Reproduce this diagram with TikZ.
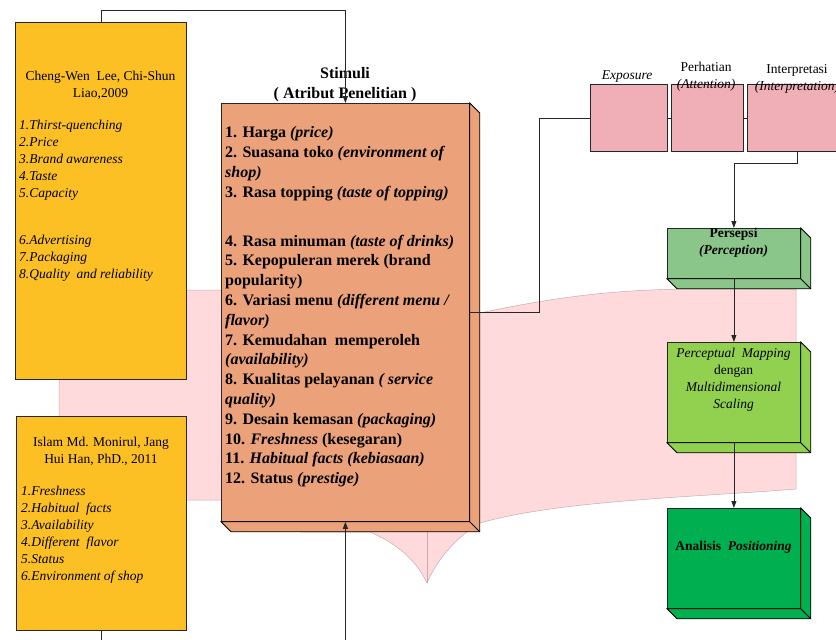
\documentclass[tikz,border=0pt]{standalone}
\usepackage{fontspec}
\setmainfont{Liberation Serif}
\usetikzlibrary{arrows.meta}

\definecolor{litcol}{RGB}{252,192,37}
\definecolor{stimcol}{RGB}{235,161,121}
\definecolor{stagecol}{RGB}{240,175,182}
\definecolor{percol}{RGB}{138,198,137}
\definecolor{mapcol}{RGB}{146,208,80}
\definecolor{anacol}{RGB}{0,176,80}
\definecolor{bgpink}{RGB}{255,218,220}
\definecolor{bgedge}{RGB}{200,172,174}

% side and bottom faces of a raised box
\newcommand{\depthbox}[2]{%
  \draw[line width=0.8pt,fill=#2] (#1.north east) -- ([shift={(10,10)}]#1.north east)
    -- ([shift={(10,10)}]#1.south east) -- ([shift={(10,10)}]#1.south west)
    -- (#1.south west) -- (#1.south east) -- cycle;
  \draw[line width=0.8pt] (#1.south east) -- ([shift={(10,10)}]#1.south east);}

\begin{document}
\begin{tikzpicture}[x=1pt,y=-1pt,
    box/.style={draw=black!85,line width=0.8pt,inner sep=0pt,anchor=north west},
    txt/.style={inner sep=0pt,font=\fontsize{13.5}{17}\selectfont},
    link/.style={draw=black!85,line width=0.8pt},
    arrow/.style={link,-{Triangle[length=7pt,width=5pt]}}]
  \useasboundingbox (0,0) rectangle (836,640);

  % pink background shape
  \draw[bgedge,fill=bgpink,line width=0.5pt] (59,290) -- (300,290) -- (300,313) -- (480,313)
    .. controls (560,296) and (620,289) .. (700,289) -- (796,289) -- (796,489)
    .. controls (700,497) and (560,500) .. (480,523)
    .. controls (455,538) and (437,560) .. (427,583)
    .. controls (417,562) and (400,545) .. (370,532)
    -- (300,532) -- (300,500) -- (59,500) -- cycle;
  \draw[bgedge,line width=0.5pt] (427,532) -- (427,583);

  % literature boxes
  \node[box,fill=litcol,minimum width=171,minimum height=357] (lit1) at (15,22) {};
  \node[txt,anchor=north,align=center] at (100.5,71) {Cheng-Wen\ \ Lee, Chi-Shun\\Liao,2009};
  \node[txt,anchor=north west,align=left,font=\fontsize{13.5}{17}\selectfont\itshape] at (19,120)
    {1.Thirst-quenching\\2.Price\\3.Brand awareness\\4.Taste\\5.Capacity\\[30pt]
     6.Advertising\\7.Packaging\\8.Quality\ \ and\ reliability};

  \node[box,fill=litcol,minimum width=170,minimum height=214] (lit2) at (16,416) {};
  \node[txt,anchor=north,align=center] at (101,437) {Islam Md. Monirul,\ Jang\\Hui Han, PhD., 2011};
  \node[txt,anchor=north west,align=left,font=\fontsize{13.5}{16.9}\selectfont\itshape] at (21,486)
    {1.Freshness\\2.Habitual\ \ facts\\3.Availability\\4.Different\ \ flavor\\5.Status\\6.Environment of shop};

  % stimulus box
  \node[box,fill=stimcol,minimum width=248,minimum height=418] (stim) at (221,103) {};
  \depthbox{stim}{stimcol}
  \node[inner sep=0pt,anchor=north,align=center,font=\fontsize{16}{20}\selectfont\bfseries] at (345,67)
    {Stimuli\\( Atribut Penelitian )};
  \node[inner sep=0pt,anchor=north west,align=left,font=\fontsize{16}{19.8}\selectfont\bfseries] at (225,126.5)
    {1. Harga \textit{(price)}\\
     2. Suasana toko \textit{(environment of}\\
     \textit{shop)}\\
     3. Rasa topping \textit{(taste of topping)}\\[29pt]
     4. Rasa minuman \textit{(taste of drinks)}\\
     5. Kepopuleran merek (brand\\
     popularity)\\
     6. Variasi menu \textit{(different menu /}\\
     \textit{flavor)}\\
     7. Kemudahan\ \ memperoleh\\
     \textit{(availability)}\\
     8. Kualitas pelayanan \textit{( service}\\
     \textit{quality)}\\
     9. Desain kemasan \textit{(packaging)}\\
     10. \textit{Freshness} (kesegaran)\\
     11. \textit{Habitual facts (kebiasaan)}\\
     12. Status \textit{(prestige)}};

  % perception stages
  \node[box,fill=stagecol,minimum width=77,minimum height=67] (exp) at (590,84) {};
  \node[box,fill=stagecol,minimum width=72,minimum height=67] (att) at (671,84) {};
  \node[box,fill=stagecol,minimum width=100,minimum height=67] (int) at (747,84) {};
  \node[txt,font=\fontsize{13.5}{17}\selectfont\itshape] at (627,77) {Exposure};
  \node[txt,anchor=north,align=center] at (706,62) {Perhatian\\\textit{(Attention)}};
  \node[txt,anchor=north,align=center] at (797,64) {Interpretasi\\\textit{(Interpretation)}};

  % result boxes
  \node[box,fill=percol,minimum width=133,minimum height=50] (per) at (667,228) {};
  \depthbox{per}{percol}
  \node[txt,anchor=north,align=center,font=\fontsize{13.5}{16.5}\selectfont\bfseries] at (733.5,228)
    {Persepsi\\\textit{(Perception)}};

  \node[box,fill=mapcol,minimum width=133,minimum height=100] (map) at (667,342) {};
  \depthbox{map}{mapcol}
  \node[txt,anchor=north,align=center] at (733.5,348)
    {\textit{Perceptual\ \ Mapping}\\dengan\\\textit{Multidimensional}\\\textit{Scaling}};

  \node[box,fill=anacol,minimum width=133,minimum height=100] (ana) at (667,508) {};
  \depthbox{ana}{anacol}
  \node[txt,font=\fontsize{13.5}{17}\selectfont\bfseries] at (733.5,547) {Analisis\ \ \textit{Positioning}};

  % connectors
  \draw[arrow] (lit1.north) -- ++(0,-12) -| (stim.north);
  \draw[arrow] (lit2.south) -- ++(0,30) -| (stim.south);
  \draw[link] (stim.east) -- ++(70,0) |- (exp.west);
  \draw[link] (exp.east) -- (att.west);
  \draw[link] (att.east) -- (int.west);
  \draw[arrow] (int.south) -- ++(0,12) -| (per.north);
  \draw[arrow] (per.south) -- (map.north);
  \draw[arrow] (map.south) -- (ana.north);
\end{tikzpicture}
\end{document}
